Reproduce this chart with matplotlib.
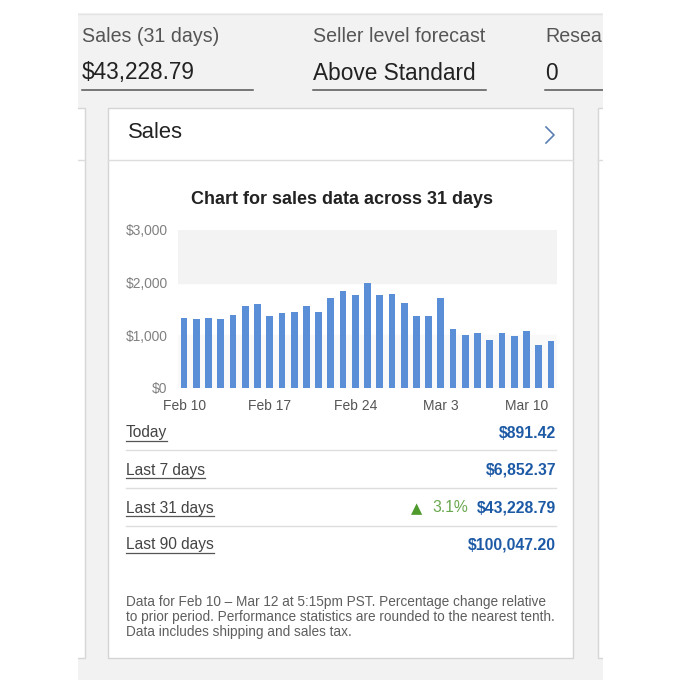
import matplotlib
matplotlib.use("Agg")
import matplotlib.pyplot as plt
from matplotlib.patches import Rectangle

plt.rcParams['font.family'] = ['Liberation Sans', 'DejaVu Sans']

# ---- data ----
days = list(range(31))
sales = [1333, 1308, 1333, 1308, 1378, 1551, 1590, 1359, 1417, 1442,
         1551, 1442, 1705, 1840, 1769, 1987, 1769, 1788, 1615, 1359,
         1359, 1705, 1115, 1006, 1045, 917, 1045, 981, 1090, 808, 891]
xtick_pos = [0, 7, 14, 21, 28]
xtick_labels = ["Feb 10", "Feb 17", "Feb 24", "Mar 3", "Mar 10"]
ytick_vals = [0, 1000, 2000, 3000]
ytick_labels = ["$0", "$1,000", "$2,000", "$3,000"]

header_labels = ["Sales (31 days)", "Seller level forecast", "Resea"]
header_values = ["$43,228.79", "Above Standard", "0"]

period_labels = ["Today", "Last 7 days", "Last 31 days", "Last 90 days"]
period_values = ["$891.42", "$6,852.37", "$43,228.79", "$100,047.20"]
change_pct = "3.1%"

title = "Chart for sales data across 31 days"
footer = ["Data for Feb 10 \u2013 Mar 12 at 5:15pm PST. Percentage change relative",
          "to prior period. Performance statistics are rounded to the nearest tenth.",
          "Data includes shipping and sales tax."]

W = H = 680
fig = plt.figure(figsize=(6.8, 6.8), dpi=100)
fig.patch.set_facecolor("white")

bg = fig.add_axes([0, 0, 1, 1])
bg.set_xlim(0, W)
bg.set_ylim(H, 0)
bg.axis("off")

# page background
bg.add_patch(Rectangle((78, 13), 525, 667, facecolor="#f2f2f2", edgecolor="none"))
bg.plot([78, 603], [13.5, 13.5], color="#e4e4e4", lw=1)
# neighbour cards
bg.add_patch(Rectangle((70, 108), 15, 550, facecolor="white", edgecolor="#d6d6d6", lw=1))
bg.plot([78, 85], [160, 160], color="#dcdcdc", lw=1)
bg.add_patch(Rectangle((598, 108), 15, 550, facecolor="white", edgecolor="#d6d6d6", lw=1))
bg.plot([598, 603], [160, 160], color="#dcdcdc", lw=1)
bg.add_patch(Rectangle((0, 0), 78, 680, facecolor="white", edgecolor="none", zorder=3))
bg.add_patch(Rectangle((603, 0), 77, 680, facecolor="white", edgecolor="none", zorder=3))

# header stats
hx = [82, 313, 545]
hend = [253, 486, 603]
for x, e, lab, val in zip(hx, hend, header_labels, header_values):
    bg.text(x, 37, lab, fontsize=14.1, color="#555555", va="center", ha="left")
    bg.text(x, 73, val, fontsize=16.3, color="#222222", va="center", ha="left")
    bg.plot([x, e], [90, 90], color="#555555", lw=1.1)

# main card
bg.add_patch(Rectangle((108, 108), 465, 550, facecolor="white", edgecolor="#d4d4d4", lw=1))
bg.text(128, 133, "Sales", fontsize=15.8, color="#222222", va="center", ha="left")
bg.plot([546, 554, 546], [127, 135, 143], color="#5b7fb3", lw=1.2)
bg.plot([108, 573], [160, 160], color="#dddddd", lw=1)

bg.text(342, 199, title, fontsize=13, fontweight="bold", color="#222222",
        va="center", ha="center")

# table
row_y = [433, 470, 508, 545]
for y in [450, 488, 526]:
    bg.plot([126, 556], [y, y], color="#dddddd", lw=1)
label_texts = []
for y, lab, val in zip(row_y, period_labels, period_values):
    t = bg.text(126, y, lab, fontsize=11.2, color="#444444", va="center", ha="left")
    label_texts.append((t, y))
    bg.text(556, y, val, fontsize=11.3, fontweight="bold", color="#1d5aa6",
            va="center", ha="right")
bg.text(411, 509, "\u25b2", fontsize=10.5, color="#4f9a2c", va="center", ha="left",
        family=["DejaVu Sans"])
bg.text(432, 508, change_pct, fontsize=11.3, color="#6aa84f", va="center", ha="left")

for i, line in enumerate(footer):
    bg.text(126, 602 + 15 * i, line, fontsize=9.8, color="#5e5e5e", va="center", ha="left")

# bar chart
x0, x1, ytop, ybot = 178, 557, 230, 388
ax = fig.add_axes([x0 / W, 1 - ybot / H, (x1 - x0) / W, (ybot - ytop) / H])
ax.set_facecolor("white")
ax.axhspan(2000, 3000, color="#f3f3f3", zorder=0)
ax.axhspan(0, 1000, color="#f9f9f9", zorder=0)
ax.bar(days, sales, width=0.55, color="#5a8ed6", zorder=2)
ax.set_xlim(-0.5, 30.5)
ax.set_ylim(0, 3000)
ax.set_yticks(ytick_vals)
ax.set_yticklabels(ytick_labels)
ax.set_xticks(xtick_pos)
ax.set_xticklabels(xtick_labels)
ax.tick_params(axis="y", length=0, pad=7.5, labelsize=9.9, labelcolor="#808080")
ax.tick_params(axis="x", length=0, pad=8, labelsize=10, labelcolor="#555555")
for s in ax.spines.values():
    s.set_visible(False)

# underline period labels
fig.canvas.draw()
r = fig.canvas.get_renderer()
inv = bg.transData.inverted()
for t, y in label_texts:
    bb = t.get_window_extent(renderer=r)
    (lx0, _), (lx1, _) = inv.transform([(bb.x0, 0), (bb.x1, 0)])
    bg.plot([lx0, lx1], [y + 8, y + 8], color="#555555", lw=0.9)

fig.savefig("out.png", dpi=100, facecolor="white")
